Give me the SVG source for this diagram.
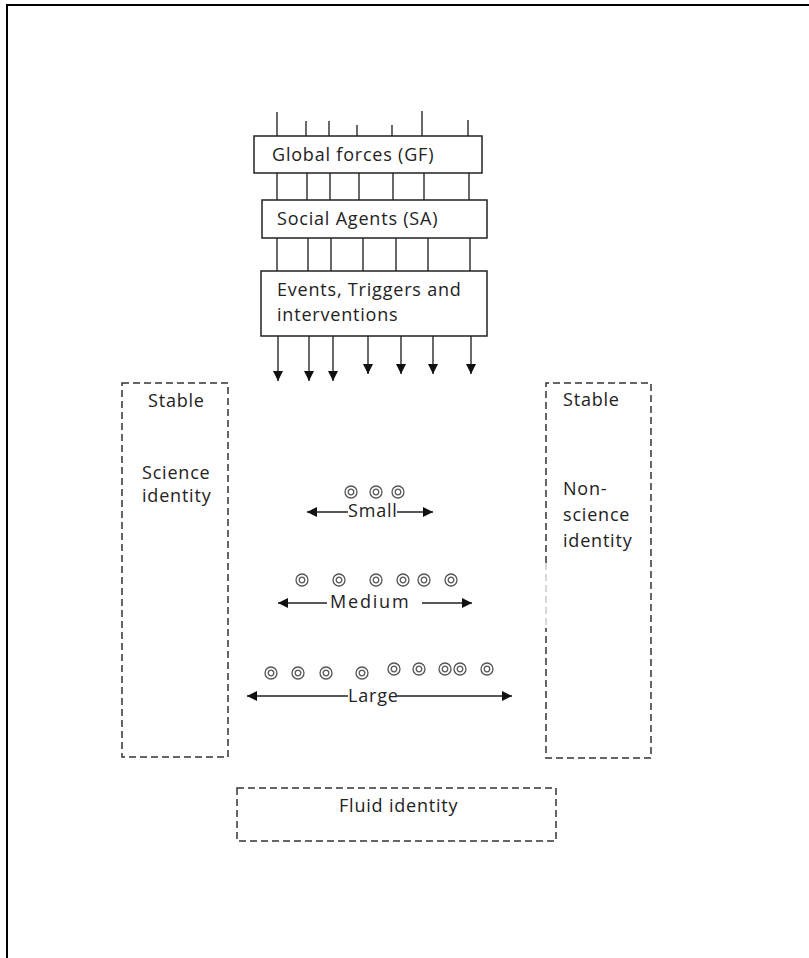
<svg xmlns="http://www.w3.org/2000/svg" width="809" height="958" viewBox="0 0 809 958">
<style>
  .t{font-family:"Open Sans","Liberation Sans",sans-serif;font-size:18px;letter-spacing:0.8px;fill:#222}
  .box{fill:#fff;stroke:#222;stroke-width:1.5}
  .dash{fill:none;stroke:#333;stroke-width:1.5;stroke-dasharray:7 4}
  .v{stroke:#444;stroke-width:1.6}
  .h{stroke:#222;stroke-width:1.5}
  .c{fill:none;stroke:#555;stroke-width:1.3}
</style>
<defs>
  <marker id="ah" viewBox="0 0 10 10" refX="10" refY="5" markerWidth="10" markerHeight="10" markerUnits="userSpaceOnUse" orient="auto">
    <path d="M0,0 L10,5 L0,10 z" fill="#111"/>
  </marker>
  <g id="dc"><circle r="6" class="c"/><circle r="2.8" class="c"/></g>
</defs>
<rect width="809" height="958" fill="#fff"/>
<path d="M7,958 V5 H809" fill="none" stroke="#000" stroke-width="2"/>

<g id="connectors">
  <line class="v" x1="277" y1="112" x2="277" y2="136"/>
  <line class="v" x1="306" y1="121" x2="306" y2="136"/>
  <line class="v" x1="329" y1="121" x2="329" y2="136"/>
  <line class="v" x1="357" y1="125" x2="357" y2="136"/>
  <line class="v" x1="392" y1="125" x2="392" y2="136"/>
  <line class="v" x1="422" y1="111" x2="422" y2="136"/>
  <line class="v" x1="468" y1="120" x2="468" y2="136"/>
  <line class="v" x1="277" y1="173" x2="277" y2="200"/>
  <line class="v" x1="307" y1="173" x2="307" y2="200"/>
  <line class="v" x1="330" y1="173" x2="330" y2="200"/>
  <line class="v" x1="359" y1="173" x2="359" y2="200"/>
  <line class="v" x1="393" y1="173" x2="393" y2="200"/>
  <line class="v" x1="424" y1="173" x2="424" y2="200"/>
  <line class="v" x1="469" y1="173" x2="469" y2="200"/>
  <line class="v" x1="277" y1="238" x2="277" y2="271"/>
  <line class="v" x1="308" y1="238" x2="308" y2="271"/>
  <line class="v" x1="331" y1="238" x2="331" y2="271"/>
  <line class="v" x1="363" y1="238" x2="363" y2="271"/>
  <line class="v" x1="396" y1="238" x2="396" y2="271"/>
  <line class="v" x1="428" y1="238" x2="428" y2="271"/>
  <line class="v" x1="470" y1="238" x2="470" y2="271"/>
  <line class="v" x1="278" y1="336" x2="278" y2="381" marker-end="url(#ah)"/>
  <line class="v" x1="309" y1="336" x2="309" y2="381" marker-end="url(#ah)"/>
  <line class="v" x1="333" y1="336" x2="333" y2="381" marker-end="url(#ah)"/>
  <line class="v" x1="368" y1="336" x2="368" y2="374" marker-end="url(#ah)"/>
  <line class="v" x1="401" y1="336" x2="401" y2="374" marker-end="url(#ah)"/>
  <line class="v" x1="433" y1="336" x2="433" y2="374" marker-end="url(#ah)"/>
  <line class="v" x1="471" y1="336" x2="471" y2="374" marker-end="url(#ah)"/>
  <line class="h" x1="348" y1="512" x2="307" y2="512" marker-end="url(#ah)"/>
  <line class="h" x1="397" y1="512" x2="433" y2="512" marker-end="url(#ah)"/>
  <line class="h" x1="327" y1="603" x2="278" y2="603" marker-end="url(#ah)"/>
  <line class="h" x1="422" y1="603" x2="472" y2="603" marker-end="url(#ah)"/>
  <line class="h" x1="348" y1="696" x2="247" y2="696" marker-end="url(#ah)"/>
  <line class="h" x1="397" y1="696" x2="512" y2="696" marker-end="url(#ah)"/>
</g>

<g id="gf">
  <rect class="box" x="254" y="136" width="228" height="37"/>
  <text class="t" x="272" y="161">Global forces (GF)</text>
</g>
<g id="sa">
  <rect class="box" x="262" y="200" width="225" height="38"/>
  <text class="t" x="277" y="225">Social Agents (SA)</text>
</g>
<g id="events">
  <rect class="box" x="261" y="271" width="226" height="65"/>
  <text class="t" x="277" y="296">Events, Triggers and</text>
  <text class="t" x="277" y="321">interventions</text>
</g>
<g id="science">
  <rect class="dash" x="122" y="383" width="106" height="374"/>
  <text class="t" x="148" y="407">Stable</text>
  <text class="t" x="142" y="479">Science</text>
  <text class="t" x="142" y="502">identity</text>
</g>
<g id="nonscience">
  <path class="dash" d="M546,563 V383 H651 V758 H546 V628"/>
  <line x1="546" y1="563" x2="546" y2="628" stroke="#999" stroke-width="0.8" stroke-dasharray="7 4"/>
  <text class="t" x="563" y="406">Stable</text>
  <text class="t" x="563" y="495">Non-</text>
  <text class="t" x="563" y="521">science</text>
  <text class="t" x="563" y="547">identity</text>
</g>
<g id="fluid">
  <rect class="dash" x="237" y="788" width="319" height="53"/>
  <text class="t" x="339" y="812">Fluid identity</text>
</g>
<g id="small">
  <use href="#dc" x="351" y="492"/>
  <use href="#dc" x="376" y="492"/>
  <use href="#dc" x="398" y="492"/>
  <text class="t" x="348" y="517">Small</text>
</g>
<g id="medium">
  <use href="#dc" x="302" y="580"/>
  <use href="#dc" x="339" y="580"/>
  <use href="#dc" x="376" y="580"/>
  <use href="#dc" x="403" y="580"/>
  <use href="#dc" x="424" y="580"/>
  <use href="#dc" x="451" y="580"/>
  <text class="t" x="330" y="608" style="letter-spacing:1.8px">Medium</text>
</g>
<g id="large">
  <use href="#dc" x="271" y="673"/>
  <use href="#dc" x="298" y="673"/>
  <use href="#dc" x="326" y="673"/>
  <use href="#dc" x="362" y="673"/>
  <use href="#dc" x="394" y="669"/>
  <use href="#dc" x="419" y="669"/>
  <use href="#dc" x="445" y="669"/>
  <use href="#dc" x="460" y="669"/>
  <use href="#dc" x="487" y="669"/>
  <text class="t" x="348" y="702">Large</text>
</g>
</svg>
